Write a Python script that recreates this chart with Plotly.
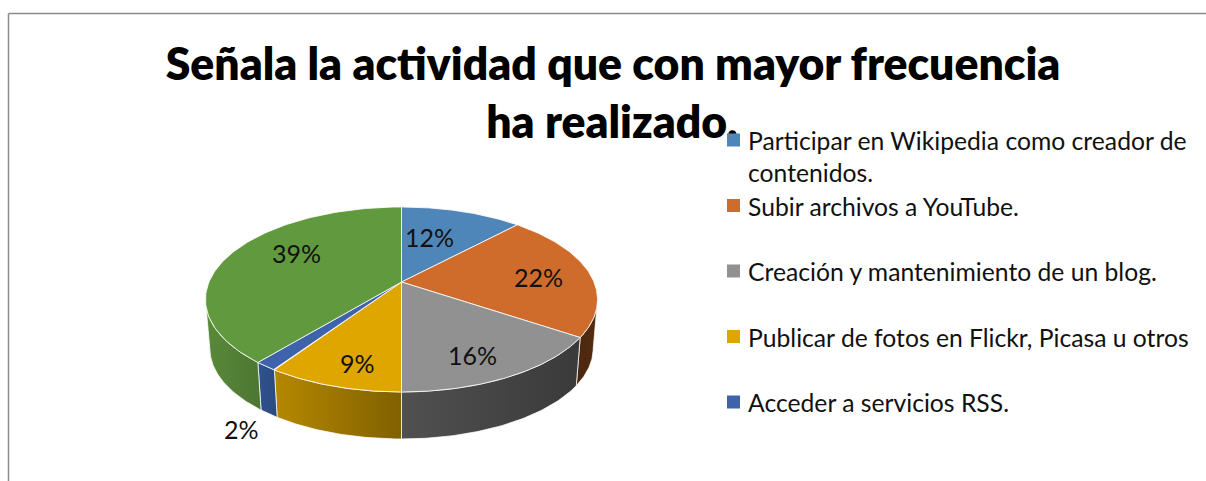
'''
Pie chart drawn with perspective, rebuilt with Plotly scatter polygons
'''
import numpy as np
import plotly.graph_objects as go

TITLE_LINES = ['Señala la actividad que con mayor frecuencia', 'ha realizado.']
CATEGORIES = [
    'Participar en Wikipedia como creador de<br>contenidos.',
    'Subir archivos a YouTube.',
    'Creación y mantenimiento de un blog.',
    'Publicar de fotos en Flickr, Picasa u otros',
    'Acceder a servicios RSS.',
    '',
]
VALUES = [12, 22.4, 15.6, 9.4, 1.6, 39]
LABELS = ['12%', '22%', '16%', '9%', '2%', '39%']
TOP_COLORS = ['#4f86b9', '#d06c2b', '#919191', '#e0a600', '#3e63aa', '#619a3e']
WALL_COLORS = [
    ['#2f4f6f', '#2f4f6f'],
    ['#4a2710', '#552c0e'],
    ['#505050', '#3a3a3a'],
    ['#b68800', '#806000'],
    ['#2f528f', '#2b4a7f'],
    ['#5a8a3a', '#4c7632'],
]

# placement, in pixels of the 1206x481 page
CX, APEX_Y = 401.5, 282
A, B, K = 192.5, 89.2, 0.189
BOTTOM_APEX_Y, BOTTOM_SCALE = 331.4, 0.978
LABEL_XY = [(429, 237), (538, 277), (472, 355), (357, 363), (241, 429), (296, 253)]
LEGEND_X, LEGEND_Y0, LEGEND_STEP = 733.5, 140, 65.5
FONT = 'Lato'


def project(theta, radius=1.0, apex_y=APEX_Y, scale=1.0):
    u, v = radius * np.sin(theta), radius * np.cos(theta)
    w = 1 + K * v
    return CX + scale * A * u / w, apex_y - scale * B * v / w


fractions = np.cumsum([0] + VALUES) / sum(VALUES)
starts, ends = fractions[:-1] * 2 * np.pi, fractions[1:] * 2 * np.pi
limit = np.arccos(-K)

fig = go.Figure()

# title goes in first: the first legend swatch sits over its full stop
fig.add_trace(go.Scatter(
    x=[613, 612], y=[69, 127], mode='text', text=TITLE_LINES,
    textfont=dict(family=FONT, size=44.5, color='black', weight=800),
    hoverinfo='skip', showlegend=False,
))

# side walls, only the part of the rim that faces the viewer
for i in range(len(VALUES)):
    lo, hi = max(starts[i], limit), min(ends[i], 2 * np.pi - limit)
    if hi <= lo:
        continue
    t = np.linspace(lo, hi, 60)
    x1, y1 = project(t)
    x2, y2 = project(t, apex_y=BOTTOM_APEX_Y, scale=BOTTOM_SCALE)
    fig.add_trace(go.Scatter(
        x=np.r_[x1, x2[::-1], x1[0]], y=np.r_[y1, y2[::-1], y1[0]],
        mode='lines', fill='toself',
        fillgradient=dict(type='horizontal', colorscale=[[0, WALL_COLORS[i][0]], [1, WALL_COLORS[i][1]]]),
        line=dict(color='rgba(255,255,255,0.75)', width=1),
        hoverinfo='skip', showlegend=False,
    ))

# top face
for i in range(len(VALUES)):
    t = np.linspace(starts[i], ends[i], 100)
    x, y = project(t)
    fig.add_trace(go.Scatter(
        x=np.r_[CX, x, CX], y=np.r_[APEX_Y, y, APEX_Y],
        mode='lines', fill='toself', fillcolor=TOP_COLORS[i],
        line=dict(color='rgba(255,255,255,0.8)', width=1),
        name=LABELS[i], hoverinfo='name', showlegend=False,
    ))

# legend swatches
n_legend = 5
fig.add_trace(go.Scatter(
    x=[LEGEND_X] * n_legend, y=[LEGEND_Y0 + LEGEND_STEP * i for i in range(n_legend)],
    mode='markers', marker=dict(symbol='square', size=13, color=TOP_COLORS[:n_legend]),
    hoverinfo='skip', showlegend=False,
))

annotations = []
for i in range(n_legend):
    annotations.append(dict(
        x=746, y=LEGEND_Y0 + LEGEND_STEP * i - 16, text=CATEGORIES[i], showarrow=False,
        xanchor='left', yanchor='top', align='left', xref='x', yref='y',
        font=dict(family=FONT, size=24.7, color='#111111'),
    ))
for label, (lx, ly) in zip(LABELS, LABEL_XY):
    annotations.append(dict(
        x=lx, y=ly, text=label, showarrow=False, xref='x', yref='y',
        font=dict(family=FONT, size=25, color='#111111'),
    ))

fig.update_layout(
    width=1206, height=481,
    margin=dict(l=0, r=0, t=0, b=0),
    paper_bgcolor='white', plot_bgcolor='white',
    xaxis=dict(range=[0, 1206], visible=False, fixedrange=True),
    yaxis=dict(range=[481, 0], visible=False, fixedrange=True),
    annotations=annotations,
    shapes=[
        dict(type='line', x0=8.5, x1=1206, y0=13.5, y1=13.5, line=dict(color='#8c8c8c', width=1.5)),
        dict(type='line', x0=8.5, x1=8.5, y0=13.5, y1=481, line=dict(color='#8c8c8c', width=1.5)),
    ],
)

fig.write_html('out.html', config={'displayModeBar': False},
               post_script="document.body.style.margin='0';document.body.style.overflow='hidden';")
